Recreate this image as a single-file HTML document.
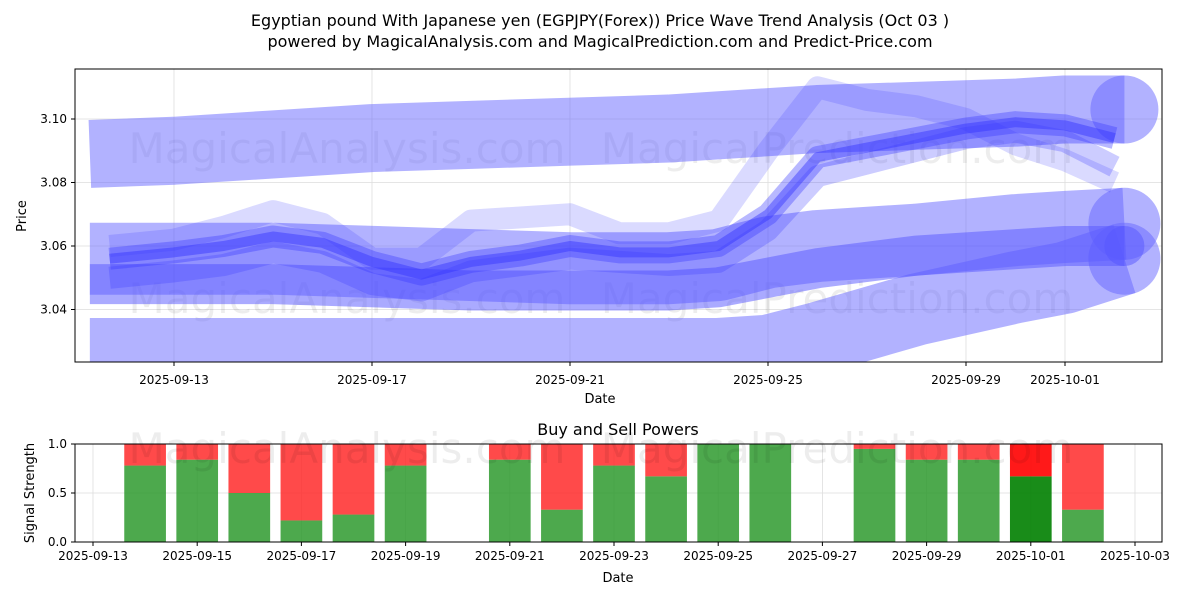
<!DOCTYPE html>
<html><head><meta charset="utf-8"><style>
body{margin:0;background:#fff;font-family:"Liberation Sans","DejaVu Sans",sans-serif}
svg text{font-family:"DejaVu Sans","Liberation Sans",sans-serif}
</style></head><body>
<svg id="c" width="1200" height="600" viewBox="0 0 1200 600" xmlns="http://www.w3.org/2000/svg">
<text x="600" y="26" text-anchor="middle" font-size="16">Egyptian pound With Japanese yen (EGPJPY(Forex)) Price Wave Trend Analysis (Oct 03 )</text>
<text x="600" y="47" text-anchor="middle" font-size="16">powered by MagicalAnalysis.com and MagicalPrediction.com and Predict-Price.com</text>
<g id="topPanel"></g>
<g id="botPanel"></g>
</svg>
<script>
// ---- price panel data (day offsets from 2025-09-13) ----
const bandDays = [-1.7,0,2,4,6,8,10,11,12,13,15,17,18,19.2];
const bandTop = [3.089,3.090,3.092,3.094,3.095,3.096,3.097,3.098,3.099,3.100,3.101,3.102,3.103,3.103];
const bandBottom = [3.026,3.026,3.026,3.026,3.026,3.026,3.026,3.026,3.027,3.031,3.040,3.047,3.050,3.056];
const bandMid = [3.056,3.056,3.056,3.055,3.054,3.053,3.053,3.054,3.058,3.060,3.062,3.065,3.066,3.067];
const bandDark = [3.048,3.048,3.048,3.047,3.046,3.046,3.046,3.047,3.050,3.053,3.057,3.059,3.060,3.060];
const waveDays = [-1.3,0,1,2,3,4,5,6,7,8,9,10,11,12,13,14,15,16,17,18,19];
const waveA = [3.056,3.058,3.060,3.063,3.061,3.055,3.051,3.055,3.057,3.060,3.058,3.058,3.060,3.070,3.088,3.091,3.094,3.097,3.099,3.098,3.094];
const waveB = [3.060,3.062,3.066,3.071,3.067,3.056,3.056,3.068,3.069,3.070,3.064,3.064,3.068,3.090,3.110,3.106,3.104,3.100,3.092,3.087,3.080];
const waveC = [3.050,3.052,3.054,3.058,3.055,3.048,3.046,3.052,3.054,3.056,3.055,3.054,3.055,3.065,3.082,3.086,3.090,3.094,3.096,3.093,3.085];
const priceTicks = [3.04,3.06,3.08,3.10];
const dateTicksTop = ["2025-09-13","2025-09-17","2025-09-21","2025-09-25","2025-09-29","2025-10-01"];
const dateTickDaysTop = [0,4,8,12,16,18];
// ---- signal panel data (day offsets from 2025-09-13) ----
const barDays = [1,2,3,4,5,6,8,9,10,11,12,13,15,16,17,18,19];
const buyPower = [0.78,0.84,0.5,0.22,0.28,0.78,0.84,0.33,0.78,0.67,1.0,1.0,0.95,0.84,0.84,0.67,0.33];
const sigTicks = [0,0.5,1.0];
const dateTicksBot = ["2025-09-13","2025-09-15","2025-09-17","2025-09-19","2025-09-21","2025-09-23","2025-09-25","2025-09-27","2025-09-29","2025-10-01","2025-10-03"];
const dateTickDaysBot = [0,2,4,6,8,10,12,14,16,18,20];

const NS="http://www.w3.org/2000/svg";
function mk(tag,attrs,parent,txt){const e=document.createElementNS(NS,tag);for(const k in attrs)e.setAttribute(k,attrs[k]);if(txt!==undefined)e.textContent=txt;parent.appendChild(e);return e;}
const topG=document.getElementById('topPanel'), botG=document.getElementById('botPanel');
const L=75,R=1162,T=69,B=362;
function xT(d){return 174+49.5*d;}
function yT(v){return 119+(3.10-v)*3175;}
function yB(v){return 542-98*v;}
function xb(d){return 93+52.1*d;}
let cp=mk('clipPath',{id:'cpt'},topG);mk('rect',{x:L,y:T,width:R-L,height:B-T},cp);
priceTicks.forEach(v=>{let g=mk('line',{x1:L,x2:R,y1:yT(v),y2:yT(v),stroke:'#ddd','stroke-width':0.8},topG);
 
 
 let t=mk('text',{x:L-8,y:yT(v)+4,'text-anchor':'end','font-size':12},topG,v.toFixed(2));
 
 
 mk('line',{x1:L-4,x2:L,y1:yT(v),y2:yT(v),stroke:'#000'},topG);});
dateTickDaysTop.forEach((d,i)=>{mk('line',{x1:xT(d),x2:xT(d),y1:T,y2:B,stroke:'#ddd','stroke-width':0.8},topG);mk('line',{x1:xT(d),x2:xT(d),y1:B,y2:B+4,stroke:'#000'},topG);
 let t=mk('text',{x:xT(d),y:B+22,'text-anchor':'middle','font-size':12},topG,dateTicksTop[i]);
 
 });
const wm=[[347,163],[837,163],[347,313],[837,313]];
wm.forEach((p,i)=>{let t=mk('text',{x:p[0],y:p[1],'text-anchor':'middle','font-size':42,fill:'#000','fill-opacity':0.07},topG,i%2?'MagicalPrediction.com':'MagicalAnalysis.com');
 
 });
const gp=mk('g',{'clip-path':'url(#cpt)'},topG);
function pts(days,arr){return days.map((d,i)=>xT(d)+','+yT(arr[i])).join(' ');}
function band(arr,w,col,op,name){let p=mk('polyline',{points:pts(bandDays,arr),fill:'none',stroke:col,'stroke-width':w,'stroke-opacity':op,'stroke-linejoin':'round','stroke-linecap':'butt'},gp);
 
 
 const n=arr.length-1;let c=mk('circle',{cx:xT(bandDays[n]),cy:yT(arr[n]),r:w/2,fill:col,'fill-opacity':op},gp);
 
 }
band(bandTop,68,'#6666ff',0.5,'upper-band');
band(bandBottom,72,'#6666ff',0.5,'lower-band');
band(bandMid,72,'#6666ff',0.5,'middle-band');
band(bandDark,40,'#5555ff',0.5,'dark-band');
[[waveB,22,0.18],[waveC,22,0.25],[waveA,22,0.35],[waveA,10,0.45]].forEach((w)=>{let p=mk('polyline',{points:pts(waveDays,w[0]),fill:'none',stroke:'#3333ff','stroke-width':w[1],'stroke-opacity':w[2],'stroke-linejoin':'round'},gp);
 
 });
mk('rect',{x:L,y:T,width:R-L,height:B-T,fill:'none',stroke:'#000','stroke-width':1},topG);
mk('text',{x:600,y:403,'text-anchor':'middle','font-size':13},topG,'Date');
mk('text',{x:26,y:216,'text-anchor':'middle','font-size':13,transform:'rotate(-90 26 216)'},topG,'Price');
const T2=444,B2=542;
mk('text',{x:618,y:435,'text-anchor':'middle','font-size':16},botG,'Buy and Sell Powers');
sigTicks.forEach(v=>{mk('line',{x1:L,x2:R,y1:yB(v),y2:yB(v),stroke:'#ddd','stroke-width':0.8},botG);mk('line',{x1:L-4,x2:L,y1:yB(v),y2:yB(v),stroke:'#000'},botG);
 let t=mk('text',{x:L-8,y:yB(v)+4,'text-anchor':'end','font-size':12},botG,v.toFixed(1));
 
 });
dateTickDaysBot.forEach((d,i)=>{mk('line',{x1:xb(d),x2:xb(d),y1:T2,y2:B2,stroke:'#ddd','stroke-width':0.8},botG);mk('line',{x1:xb(d),x2:xb(d),y1:B2,y2:B2+4,stroke:'#000'},botG);
 let t=mk('text',{x:xb(d),y:B2+18,'text-anchor':'middle','font-size':12},botG,dateTicksBot[i]);
 
 });
barDays.forEach((d,i)=>{const last=i===barDays.length-2;const w=52.1*0.8,x=xb(d)-w/2,v=buyPower[i];
 let g=mk('rect',{x:x,y:yB(v),width:w,height:yB(0)-yB(v),fill:last?'#008000':'#2e9a2e','fill-opacity':last?0.9:0.85},botG);
 
 
 let r=mk('rect',{x:x,y:yB(1),width:w,height:yB(v)-yB(1),fill:last?'#ff0000':'#ff2a2a','fill-opacity':last?0.9:0.85},botG);
 
 });
[[347,463],[837,463]].forEach((p,i)=>{mk('text',{x:p[0],y:p[1],'text-anchor':'middle','font-size':42,fill:'#000','fill-opacity':0.07},botG,i?'MagicalPrediction.com':'MagicalAnalysis.com');});
mk('rect',{x:L,y:T2,width:R-L,height:B2-T2,fill:'none',stroke:'#000','stroke-width':1},botG);
mk('text',{x:618,y:582,'text-anchor':'middle','font-size':13},botG,'Date');
mk('text',{x:34,y:493,'text-anchor':'middle','font-size':13,transform:'rotate(-90 34 493)'},botG,'Signal Strength');
</script>
</body></html>
